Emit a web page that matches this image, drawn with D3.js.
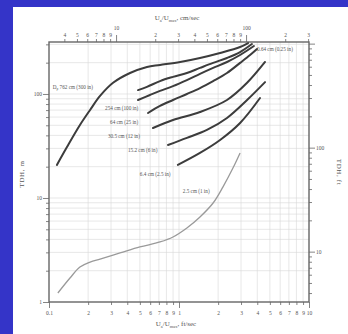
<!DOCTYPE html>
<html>
<head>
<meta charset="utf-8">
<script src="https://cdn.jsdelivr.net/npm/d3@7"></script>
<style>
  html, body { margin: 0; padding: 0; background: #3434c8; }
  svg { display: block; }
  text { font-family: "Liberation Serif", "DejaVu Serif", serif; fill: #555; }
</style>
</head>
<body>
<svg id="chart" width="348" height="334"></svg>
<script>
// U_a/U_max in ft/sec (x) against TDH in m (y), one series per pipe size
const pipeA = [[0.115, 20.8], [0.1375, 30.9], [0.173, 50.3], [0.207, 70.2], [0.247, 95.7], [0.311, 128], [0.42, 159], [0.567, 182], [0.714, 190], [1.02, 203], [1.45, 222], [2.07, 248], [2.95, 283], [3.40, 309]];
const pipeB = [[0.484, 109], [0.567, 117], [0.714, 133], [0.899, 146], [1.15, 159], [1.45, 178], [1.83, 199], [2.34, 222], [2.95, 253], [3.64, 302]];
const pipeC = [[0.484, 87.5], [0.598, 97.8], [0.714, 107], [0.899, 119], [1.15, 136], [1.45, 156], [1.83, 178], [2.34, 203], [2.95, 237], [3.77, 289]];
const pipeD = [[0.578, 65.6], [0.714, 76.7], [0.899, 87.5], [1.15, 100], [1.45, 114], [1.83, 133], [2.34, 159], [2.95, 199], [3.52, 237], [3.98, 271]];
const pipeE = [[0.631, 47.1], [0.899, 56.2], [1.45, 67.1], [2.34, 87.5], [3.34, 128], [4.59, 203]];
const pipeF = [[0.823, 32.3], [1.15, 37.8], [1.64, 45.1], [2.34, 58.8], [3.34, 87.5], [4.59, 130]];
const pipeG = [[0.98, 20.8], [1.45, 27.1], [2.07, 36.1], [2.95, 52.6], [4.20, 91.5]];
const pipeH = [[0.117, 1.22], [0.145, 1.70], [0.173, 2.17], [0.207, 2.42], [0.247, 2.59], [0.352, 2.96], [0.50, 3.38], [0.714, 3.78], [0.899, 4.22], [1.15, 5.15], [1.45, 6.57], [1.83, 8.95], [2.18, 12.8], [2.60, 19.4], [2.95, 27.1]];

// curve captions and the (ft/sec, m) point where each starts
const captionTexts = ['762 cm (300 in)', '254 cm (100 in)', '64 cm (25 in)', '30.5 cm (12 in)', '15.2 cm (6 in)', '6.4 cm (2.5 in)', '2.5 cm (1 in)', '0.64 cm (0.25 in)'];
const captionAt = [[0.107, 117], [0.270, 73.3], [0.295, 53.8], [0.284, 39.5], [0.405, 28.9], [0.50, 17.0], [1.07, 11.7], [3.98, 271]];

// tick values
const xTicks = [0.1, 0.2, 0.3, 0.4, 0.5, 0.6, 0.7, 0.8, 0.9, 1, 2, 3, 4, 5, 6, 7, 8, 9, 10];
const xTopTicks = [4, 5, 6, 7, 8, 9, 10, 20, 30, 40, 50, 60, 70, 80, 90, 100, 200, 300];
const yTicks = [1, 2, 3, 4, 5, 6, 7, 8, 9, 10, 20, 30, 40, 50, 60, 70, 80, 90, 100, 200, 300];
const yFtTicks = [4, 5, 6, 7, 8, 9, 10, 20, 30, 40, 50, 60, 70, 80, 90, 100, 200, 300, 400, 500, 600, 700, 800, 900, 1000];
const yLabels = [1, 10, 100];
const yFtLabels = [10, 100];

const FT_TO_CM = 30.48;
const M_TO_FT = 3.2808;

const svg = d3.select('#chart');
const m = {l: 49, r: 309, t: 42, b: 302};

svg.append('rect')
  .attr('x', 13).attr('y', 7)
  .attr('width', 335).attr('height', 327)
  .attr('fill', '#fff');

const x = d3.scaleLog().domain([0.1, 10]).range([m.l, m.r]);
const xTop = d3.scaleLog().domain([0.1 * FT_TO_CM, 10 * FT_TO_CM]).range([m.l, m.r]);
const y = d3.scaleLog().domain([1, 316]).range([m.b, m.t]);
const yFt = d3.scaleLog().domain([1 * M_TO_FT, 316 * M_TO_FT]).range([m.b, m.t]);

const isMajor = v => Math.abs(Math.log10(v) - Math.round(Math.log10(v))) < 1e-6;
const digit = v => String(Math.round(v / Math.pow(10, Math.floor(Math.log10(v) + 1e-9))));

// grid
const grid = svg.append('g').attr('stroke', '#d6d6d6').attr('stroke-width', 0.6);
grid.selectAll('line.v')
  .data(xTicks.slice(1, -1))
  .join('line')
  .attr('x1', d => x(d)).attr('x2', d => x(d))
  .attr('y1', m.t).attr('y2', m.b);
grid.selectAll('line.h')
  .data(yTicks.slice(1))
  .join('line')
  .attr('x1', m.l).attr('x2', m.r)
  .attr('y1', d => y(d)).attr('y2', d => y(d));

// axes
const axisColor = '#666';

const gB = svg.append('g')
  .attr('transform', `translate(0,${m.b})`)
  .call(d3.axisBottom(x).tickValues(xTicks).tickSize(3)
    .tickFormat(v => isMajor(v) ? String(v) : digit(v)));
gB.selectAll('.tick line').attr('y2', d => isMajor(d) ? 6 : 3);
gB.selectAll('.tick text').attr('y', 9);

const gT = svg.append('g')
  .attr('transform', `translate(0,${m.t})`)
  .call(d3.axisTop(xTop).tickValues(xTopTicks).tickSize(3)
    .tickFormat(v => isMajor(v) ? String(v) : digit(v)));
gT.selectAll('.tick line').attr('y2', d => isMajor(d) ? -7 : -3);
gT.selectAll('.tick text').attr('y', d => isMajor(d) ? -12 : -5);

const gL = svg.append('g')
  .attr('transform', `translate(${m.l},0)`)
  .call(d3.axisLeft(y).tickValues(yTicks).tickSize(3)
    .tickFormat(v => yLabels.includes(v) ? String(v) : ''));
gL.selectAll('.tick line').attr('x2', d => isMajor(d) ? -6 : -3);
gL.selectAll('.tick text').attr('x', -7);

const gR = svg.append('g')
  .attr('transform', `translate(${m.r},0)`)
  .call(d3.axisRight(yFt).tickValues(yFtTicks).tickSize(3)
    .tickFormat(v => yFtLabels.includes(v) ? String(v) : ''));
gR.selectAll('.tick line').attr('x2', d => isMajor(d) ? 6 : 3);
gR.selectAll('.tick text').attr('x', 7);

[gB, gT, gL, gR].forEach(g => {
  g.select('.domain').remove();
  g.selectAll('.tick line').attr('stroke', axisColor).attr('stroke-width', 0.8);
  g.selectAll('.tick text')
    .attr('font-family', '"Liberation Serif", serif')
    .attr('font-size', 5.5)
    .attr('fill', '#555');
});

svg.append('rect')
  .attr('x', m.l).attr('y', m.t)
  .attr('width', m.r - m.l).attr('height', m.b - m.t)
  .attr('fill', 'none')
  .attr('stroke', axisColor)
  .attr('stroke-width', 1.4);

// curves
const line = d3.line()
  .x(d => x(d[0]))
  .y(d => y(d[1]))
  .curve(d3.curveCatmullRom.alpha(0.5));

const dark = [pipeA, pipeB, pipeC, pipeD, pipeE, pipeF, pipeG];
svg.append('g')
  .attr('fill', 'none')
  .attr('stroke', '#3c3c3c')
  .attr('stroke-width', 2)
  .attr('stroke-linecap', 'round')
  .selectAll('path')
  .data(dark)
  .join('path')
  .attr('d', line);

svg.append('path')
  .datum(pipeH)
  .attr('fill', 'none')
  .attr('stroke', '#9a9a9a')
  .attr('stroke-width', 1.3)
  .attr('d', line);

// captions
const cap = svg.append('g').attr('font-size', 5.2).attr('fill', '#555');
cap.selectAll('text')
  .data(captionTexts)
  .join('text')
  .attr('x', (d, i) => x(captionAt[i][0]))
  .attr('y', (d, i) => y(captionAt[i][1]))
  .attr('dy', '0.35em')
  .text(d => d);
cap.select('text')
  .text(null)
  .call(t => {
    t.append('tspan').text('D');
    t.append('tspan').attr('font-size', 3.5).attr('dy', 1.5).text('p');
    t.append('tspan').attr('dy', -1.5).text(' ' + captionTexts[0]);
  });

// titles
function ratioTitle(sel, unit) {
  sel.append('tspan').text('U');
  sel.append('tspan').attr('font-size', 4.5).attr('dy', 1.8).text('a');
  sel.append('tspan').attr('dy', -1.8).text('/U');
  sel.append('tspan').attr('font-size', 4.5).attr('dy', 1.8).text('max');
  sel.append('tspan').attr('dy', -1.8).text(', ' + unit);
}

svg.append('text')
  .attr('x', 177).attr('y', 20)
  .attr('text-anchor', 'middle')
  .attr('font-size', 7)
  .call(ratioTitle, 'cm/sec');

svg.append('text')
  .attr('x', 176).attr('y', 326)
  .attr('text-anchor', 'middle')
  .attr('font-size', 7)
  .call(ratioTitle, 'ft/sec');

svg.append('text')
  .attr('transform', 'translate(24,174) rotate(-90)')
  .attr('text-anchor', 'middle')
  .attr('font-size', 7)
  .attr('letter-spacing', 0.6)
  .text('TDH, m');

svg.append('text')
  .attr('transform', 'translate(337,172) rotate(90)')
  .attr('text-anchor', 'middle')
  .attr('font-size', 7)
  .attr('letter-spacing', 0.6)
  .text('TDH, ft');
</script>
</body>
</html>
